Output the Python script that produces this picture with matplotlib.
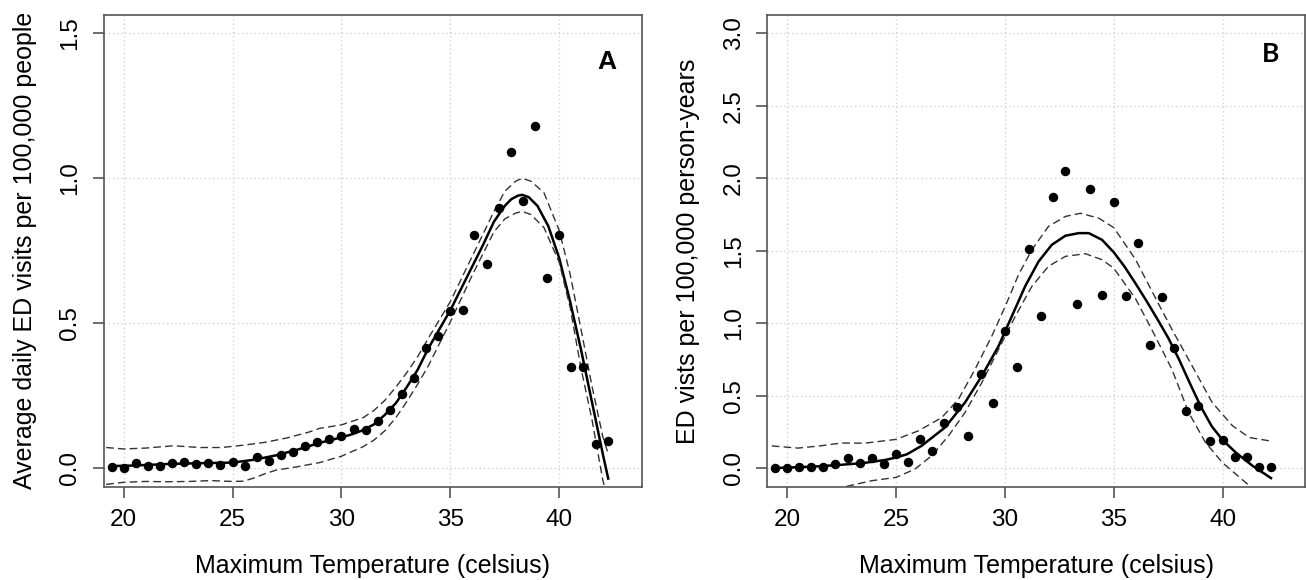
import numpy as np
import matplotlib
matplotlib.use('Agg')
import matplotlib.pyplot as plt

plt.rcParams['font.family'] = ['Liberation Sans', 'DejaVu Sans']

# binned maximum temperature (celsius), shared by both panels
temps = [19.46, 20.0, 20.56, 21.11, 21.67, 22.22, 22.78, 23.33, 23.89, 24.44,
         25.0, 25.56, 26.11, 26.67, 27.22, 27.78, 28.33, 28.89, 29.44, 30.0,
         30.56, 31.11, 31.67, 32.22, 32.78, 33.33, 33.89, 34.44, 35.0, 35.56,
         36.11, 36.67, 37.22, 37.78, 38.33, 38.89, 39.44, 40.0, 40.56, 41.11,
         41.67, 42.22]

# panel A: average daily ED visits per 100,000 people
obs_a = [0.006, 0.001, 0.020, 0.010, 0.008, 0.018, 0.023, 0.015, 0.018, 0.013,
         0.023, 0.010, 0.040, 0.027, 0.045, 0.055, 0.077, 0.090, 0.103, 0.110,
         0.136, 0.133, 0.162, 0.203, 0.255, 0.310, 0.414, 0.458, 0.541, 0.545,
         0.805, 0.705, 0.898, 1.089, 0.921, 1.180, 0.655, 0.805, 0.348, 0.348,
         0.083, 0.093]

fit_a_x = [19.46, 20.5, 22, 23.5, 25, 26, 27, 28, 29, 30, 30.5, 31, 31.5, 32,
           32.5, 33, 33.5, 34, 34.5, 35, 35.5, 36, 36.5, 37, 37.5, 37.8, 38.1,
           38.3, 38.6, 39, 39.5, 40, 40.5, 41, 41.5, 42, 42.25]
fit_a = [0.008, 0.010, 0.015, 0.018, 0.020, 0.030, 0.045, 0.065, 0.088, 0.107,
         0.118, 0.132, 0.152, 0.185, 0.225, 0.280, 0.340, 0.415, 0.480, 0.545,
         0.620, 0.695, 0.770, 0.850, 0.905, 0.928, 0.940, 0.943, 0.935, 0.905,
         0.835, 0.725, 0.575, 0.410, 0.230, 0.050, -0.035]

up_a_x = [19.2, 20, 21, 22.3, 23.5, 24.5, 25.5, 26.5, 27.5, 28.5, 29, 30, 31,
          31.5, 32, 32.5, 33, 33.5, 34, 35, 36, 37, 37.5, 38, 38.3, 38.7, 39.3,
          40, 40.5, 41, 41.5, 42, 42.25]
up_a = [0.072, 0.067, 0.070, 0.078, 0.072, 0.072, 0.080, 0.090, 0.105, 0.125,
        0.138, 0.150, 0.175, 0.200, 0.235, 0.280, 0.330, 0.385, 0.450, 0.575,
        0.730, 0.885, 0.955, 0.990, 1.000, 0.990, 0.950, 0.820, 0.670, 0.480,
        0.285, 0.110, 0.050]

lo_a_x = [19.2, 20, 21, 22, 23, 24, 25, 25.5, 26, 26.5, 27, 28, 29, 30, 31,
          31.5, 32, 32.5, 33, 33.5, 34, 35, 36, 37, 37.5, 38, 38.3, 38.7, 39.3,
          40, 40.5, 41, 41.5, 42, 42.1]
lo_a = [-0.055, -0.048, -0.045, -0.046, -0.045, -0.042, -0.045, -0.044, -0.033,
        -0.018, -0.006, 0.006, 0.020, 0.042, 0.075, 0.098, 0.130, 0.175, 0.230,
        0.290, 0.355, 0.505, 0.665, 0.815, 0.860, 0.880, 0.886, 0.875, 0.830,
        0.710, 0.555, 0.345, 0.170, -0.040, -0.070]

# panel B: ED visits per 100,000 person-years
obs_b = [0.000, 0.000, 0.008, 0.013, 0.008, 0.033, 0.069, 0.036, 0.071, 0.033,
         0.097, 0.047, 0.200, 0.117, 0.314, 0.424, 0.223, 0.654, 0.451, 0.950,
         0.696, 1.515, 1.050, 1.872, 2.053, 1.134, 1.928, 1.193, 1.836, 1.187,
         1.553, 0.851, 1.184, 0.830, 0.397, 0.428, 0.186, 0.198, 0.076, 0.081,
         0.010, 0.013]

fit_b_x = [19.46, 20.5, 21.5, 22.5, 23.5, 24.5, 25, 25.5, 26.18, 27.25, 28.17,
           28.94, 29.71, 30.32, 30.93, 31.55, 32.16, 32.78, 33.39, 33.85, 34.46,
           35, 35.5, 36, 36.5, 37, 37.5, 38, 38.5, 39, 39.5, 40, 40.6, 41.37,
           42.22]
fit_b = [0.003, 0.008, 0.015, 0.025, 0.037, 0.058, 0.075, 0.097, 0.156, 0.282,
         0.454, 0.637, 0.843, 1.049, 1.255, 1.427, 1.542, 1.604, 1.622, 1.622,
         1.576, 1.490, 1.390, 1.275, 1.155, 1.030, 0.900, 0.750, 0.585, 0.425,
         0.290, 0.195, 0.110, 0.018, -0.067]

up_b_x = [19.3, 20.5, 21.5, 22.5, 23.57, 25, 26.03, 27.1, 27.87, 28.63, 29.4,
          30.02, 30.63, 31.24, 32.0, 32.78, 33.47, 34.31, 35, 36, 37, 37.67,
          38.6, 39.52, 40.45, 41.22, 42.15]
up_b = [0.155, 0.140, 0.155, 0.175, 0.174, 0.200, 0.259, 0.350, 0.477, 0.683,
        0.912, 1.118, 1.336, 1.507, 1.668, 1.737, 1.759, 1.725, 1.660, 1.440,
        1.150, 0.959, 0.706, 0.454, 0.294, 0.213, 0.190]

lo_b_x = [22.73, 23.88, 25, 25.87, 26.64, 27.41, 28.17, 28.94, 29.71, 30.48,
          31.24, 32.0, 32.78, 33.7, 34.46, 35, 36, 36.74, 37.67, 38.44, 39.21,
          39.98, 40.6, 41.14, 41.3]
lo_b = [-0.124, -0.085, -0.062, -0.005, 0.087, 0.224, 0.385, 0.591, 0.820,
        1.049, 1.255, 1.393, 1.462, 1.480, 1.439, 1.380, 1.170, 0.959, 0.683,
        0.385, 0.179, 0.041, -0.039, -0.108, -0.130]

xticks = [20, 25, 30, 35, 40]
yticks_a = [0.0, 0.5, 1.0, 1.5]
yticks_b = [0.0, 0.5, 1.0, 1.5, 2.0, 2.5, 3.0]

fig = plt.figure(figsize=(13.06, 5.8), dpi=100)
ax1 = fig.add_axes([0.0793, 0.1609, 0.4121, 0.8133])
ax2 = fig.add_axes([0.5873, 0.1609, 0.4121, 0.8133])


def r_style(ax, yticks, ylim, ylabel):
    ax.set_xlim(19.08, 43.79)
    ax.set_ylim(*ylim)
    ax.set_xticks(xticks)
    ax.set_yticks(yticks)
    ax.set_yticklabels(['%.1f' % v for v in yticks])
    ax.grid(True, color='#d3d3d3', linestyle=(0, (1, 2)), linewidth=1)
    ax.set_axisbelow(True)
    for s in ax.spines.values():
        s.set_color('#555555')
        s.set_linewidth(1.2)
    ax.tick_params(direction='out', length=8, width=1.2, color='#555555')
    ax.tick_params(axis='x', labelsize=17.5, pad=8)
    ax.tick_params(axis='y', labelsize=17.5, pad=8, labelrotation=90)
    for t in ax.get_yticklabels():
        t.set_va('center')
    ax.set_xlabel('Maximum Temperature (celsius)', fontsize=18)
    ax.xaxis.set_label_coords(0.5, -0.168)
    ax.xaxis.label.set_va('center')
    ax.set_ylabel(ylabel, fontsize=18)
    ax.yaxis.set_label_coords(-0.146, 0.5)
    ax.yaxis.label.set_va('center')


dash = (0, (5.5, 3))

r_style(ax1, yticks_a, (-0.063, 1.563), 'Average daily ED visits per 100,000 people')
ax1.plot(fit_a_x, fit_a, color='black', lw=1.8)
ax1.plot(up_a_x, up_a, color='#333333', lw=1.0, ls=dash)
ax1.plot(lo_a_x, lo_a, color='#333333', lw=1.0, ls=dash)
ax1.plot(temps, obs_a, 'o', color='black', ms=5.8)
ax1.text(42.2, 1.40, 'A', fontsize=19, fontweight='bold', ha='center', va='center')

r_style(ax2, yticks_b, (-0.126, 3.126), 'ED vists per 100,000 person-years')
ax2.plot(fit_b_x, fit_b, color='black', lw=1.8)
ax2.plot(up_b_x, up_b, color='#333333', lw=1.0, ls=dash)
ax2.plot(lo_b_x, lo_b, color='#333333', lw=1.0, ls=dash)
ax2.plot(temps, obs_b, 'o', color='black', ms=5.8)
ax2.text(42.2, 2.86, 'B', fontsize=19, fontweight='bold', ha='center', va='center',
         family=['Lato', 'DejaVu Sans'])

fig.savefig('out.png', dpi=100)
